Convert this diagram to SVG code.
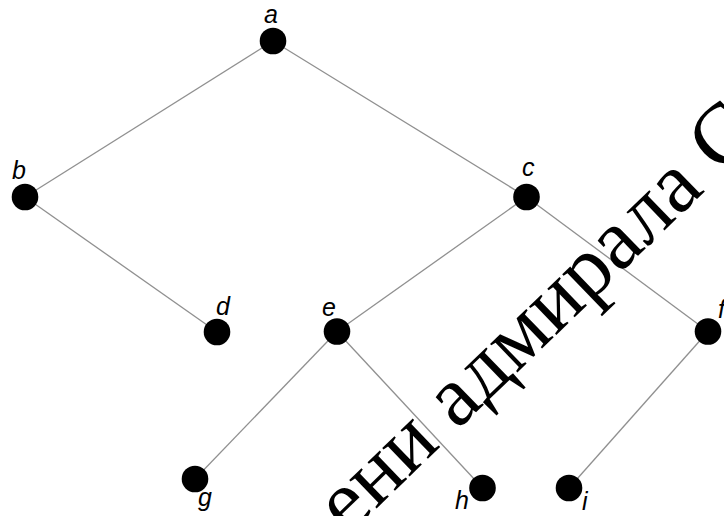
<svg xmlns="http://www.w3.org/2000/svg" width="724" height="516" viewBox="0 0 724 516">
<style>
.edge{stroke:#909090;stroke-width:1.3;fill:none}
.node{fill:#000}
.lbl{font-family:"Liberation Sans",Arial,sans-serif;font-style:italic;font-size:25px;fill:#000}
.wm{font-family:"Liberation Serif","Times New Roman",serif;font-size:86px;fill:#000}
</style>
<rect width="724" height="516" fill="#fff"/>
<g id="edges">
<line class="edge" x1="273" y1="41" x2="25" y2="197"/>
<line class="edge" x1="273" y1="41" x2="526.5" y2="197"/>
<line class="edge" x1="25" y1="197" x2="217" y2="332"/>
<line class="edge" x1="526.5" y1="197" x2="337" y2="331.5"/>
<line class="edge" x1="526.5" y1="197" x2="708" y2="331.5"/>
<line class="edge" x1="337" y1="331.5" x2="195" y2="479"/>
<line class="edge" x1="337" y1="331.5" x2="482.5" y2="488"/>
<line class="edge" x1="708" y1="331.5" x2="569" y2="488"/>
</g>
<g id="node-a"><circle class="node" cx="273" cy="41" r="13.3"/><text class="lbl" x="264" y="23">a</text></g>
<g id="node-b"><circle class="node" cx="25" cy="197" r="13.3"/><text class="lbl" x="12" y="179">b</text></g>
<g id="node-c"><circle class="node" cx="526.5" cy="197" r="13.3"/><text class="lbl" x="522" y="176">c</text></g>
<g id="node-d"><circle class="node" cx="217" cy="332" r="13.3"/><text class="lbl" x="216" y="315">d</text></g>
<g id="node-e"><circle class="node" cx="337" cy="331.5" r="13.3"/><text class="lbl" x="322" y="316">e</text></g>
<g id="node-f"><circle class="node" cx="708" cy="331.5" r="13.3"/><text class="lbl" x="718" y="318">f</text></g>
<g id="node-g"><circle class="node" cx="195" cy="479" r="13.3"/><text class="lbl" x="198" y="506">g</text></g>
<g id="node-h"><circle class="node" cx="482.5" cy="488" r="13.3"/><text class="lbl" x="455" y="509">h</text></g>
<g id="node-i"><circle class="node" cx="569" cy="488" r="13.3"/><text class="lbl" x="582" y="510">i</text></g>
<text class="wm" transform="translate(348 536) rotate(-44)">ени адмирала С</text>
</svg>
